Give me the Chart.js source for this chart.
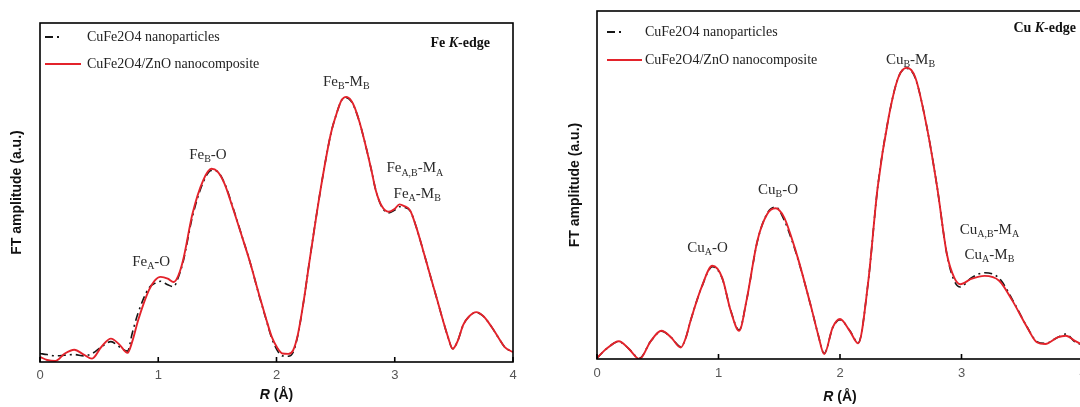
<!DOCTYPE html>
<html>
<head>
<meta charset="utf-8">
<script src="https://cdn.jsdelivr.net/npm/chart.js@4.4.1/dist/chart.umd.min.js"></script>
<style>
  html, body { margin: 0; padding: 0; width: 1080px; height: 407px; overflow: hidden; background: #fff; }
  canvas { position: absolute; top: 0; }
  #chart-fe { left: 0; }
  #chart-cu { left: 557px; }
</style>
</head>
<body>
<canvas id="chart-fe" width="540" height="407"></canvas>
<canvas id="chart-cu" width="540" height="407"></canvas>
<script>
const $ = id => document.getElementById(id);

// Fe K-edge
const rFe = [0, 0.06, 0.13, 0.21, 0.29, 0.37, 0.44, 0.52, 0.60, 0.67, 0.74, 0.78, 0.83, 0.92, 0.97, 1.02, 1.08, 1.13, 1.17, 1.21,
  1.29, 1.38, 1.45, 1.50, 1.56, 1.63, 1.70, 1.78, 1.85, 1.91, 1.96, 2.01, 2.05, 2.10, 2.14, 2.18, 2.23, 2.28, 2.34, 2.40,
  2.46, 2.51, 2.55, 2.59, 2.63, 2.66, 2.70, 2.75, 2.80, 2.84, 2.89, 2.95, 3.00, 3.04, 3.08, 3.13, 3.18, 3.24, 3.30, 3.36,
  3.41, 3.45, 3.49, 3.53, 3.58, 3.63, 3.69, 3.75, 3.82, 3.88, 3.93, 4.00];
const feComposite = [0.015, 0.006, 0.003, 0.025, 0.036, 0.022, 0.010, 0.045, 0.069, 0.052, 0.027, 0.060, 0.123, 0.211, 0.240, 0.251, 0.246, 0.236, 0.255, 0.300,
  0.438, 0.536, 0.570, 0.562, 0.526, 0.455, 0.379, 0.290, 0.202, 0.130, 0.074, 0.040, 0.025, 0.024, 0.034, 0.080, 0.180, 0.300, 0.438, 0.565,
  0.674, 0.735, 0.772, 0.782, 0.772, 0.752, 0.710, 0.644, 0.570, 0.506, 0.460, 0.443, 0.452, 0.465, 0.460, 0.447, 0.400, 0.329, 0.255, 0.182,
  0.120, 0.074, 0.039, 0.060, 0.110, 0.135, 0.147, 0.135, 0.103, 0.070, 0.044, 0.029];
const feParticles = [0.025, 0.022, 0.018, 0.020, 0.022, 0.018, 0.025, 0.045, 0.060, 0.045, 0.032, 0.085, 0.145, 0.218, 0.232, 0.238, 0.228, 0.222, 0.250, 0.295,
  0.430, 0.530, 0.565, 0.562, 0.528, 0.458, 0.380, 0.290, 0.200, 0.128, 0.070, 0.032, 0.018, 0.017, 0.028, 0.078, 0.180, 0.300, 0.438, 0.565,
  0.674, 0.735, 0.772, 0.780, 0.770, 0.750, 0.710, 0.644, 0.570, 0.506, 0.458, 0.440, 0.448, 0.458, 0.456, 0.446, 0.400, 0.329, 0.255, 0.182,
  0.120, 0.074, 0.039, 0.060, 0.110, 0.135, 0.146, 0.135, 0.103, 0.070, 0.044, 0.029];

// Cu K-edge
const rCu = [0, 0.08, 0.18, 0.26, 0.35, 0.44, 0.53, 0.61, 0.69, 0.73, 0.77, 0.86, 0.95, 1.03, 1.10, 1.17, 1.23, 1.32, 1.40, 1.47,
  1.54, 1.60, 1.66, 1.77, 1.82, 1.87, 1.94, 2.00, 2.08, 2.15, 2.23, 2.31, 2.40, 2.48, 2.55, 2.62, 2.71, 2.80, 2.88, 2.94,
  2.99, 3.08, 3.19, 3.31, 3.42, 3.54, 3.62, 3.69, 3.79, 3.86, 3.93, 4.00];
const cuComposite = [0.003, 0.030, 0.051, 0.030, 0.000, 0.050, 0.081, 0.062, 0.033, 0.060, 0.110, 0.206, 0.268, 0.234, 0.139, 0.081, 0.167, 0.340, 0.416, 0.433,
  0.407, 0.350, 0.282, 0.139, 0.070, 0.014, 0.091, 0.115, 0.081, 0.045, 0.215, 0.493, 0.694, 0.809, 0.837, 0.809, 0.675, 0.493, 0.301, 0.234,
  0.215, 0.230, 0.239, 0.225, 0.167, 0.091, 0.048, 0.043, 0.062, 0.067, 0.053, 0.040];
const cuParticles = [0.003, 0.030, 0.050, 0.030, 0.002, 0.050, 0.080, 0.062, 0.035, 0.060, 0.110, 0.205, 0.265, 0.232, 0.140, 0.083, 0.167, 0.338, 0.418, 0.437,
  0.400, 0.345, 0.280, 0.139, 0.070, 0.016, 0.090, 0.113, 0.082, 0.047, 0.215, 0.493, 0.694, 0.809, 0.835, 0.807, 0.675, 0.493, 0.300, 0.225,
  0.207, 0.233, 0.248, 0.232, 0.170, 0.092, 0.050, 0.045, 0.062, 0.072, 0.050, 0.040];

const xTicks = [0, 1, 2, 3, 4];
const seriesNames = ['CuFe2O4 nanoparticles', 'CuFe2O4/ZnO nanocomposite'];

// peak assignments, anchored in data units (R, amplitude)
const feLabels = [
  { text: 'Fe_{A}-O', r: 0.94, v: 0.295 },
  { text: 'Fe_{B}-O', r: 1.42, v: 0.611 },
  { text: 'Fe_{B}-M_{B}', r: 2.59, v: 0.826 },
  { text: 'Fe_{A,B}-M_{A}', r: 3.17, v: 0.572 },
  { text: 'Fe_{A}-M_{B}', r: 3.19, v: 0.496 }
];
const cuLabels = [
  { text: 'Cu_{A}-O', r: 0.91, v: 0.319 },
  { text: 'Cu_{B}-O', r: 1.49, v: 0.486 },
  { text: 'Cu_{B}-M_{B}', r: 2.58, v: 0.859 },
  { text: 'Cu_{A,B}-M_{A}', r: 3.23, v: 0.371 },
  { text: 'Cu_{A}-M_{B}', r: 3.23, v: 0.299 }
];

const RED = '#e3232b', BLACK = '#161616', DASH = [8, 4, 2, 4];
const SERIF = '"Liberation Serif", "Times New Roman", serif';
const SANS = '"Liberation Sans", Arial, sans-serif';

const pts = (xs, ys) => xs.map((x, i) => ({ x, y: ys[i] }));

// draw text with _{sub} parts, centred on cx
function drawRich(ctx, str, cx, cy, size) {
  const parts = str.split(/_\{([^}]*)\}/).map((t, i) => [t, i % 2 === 1]).filter(p => p[0]);
  const fMain = `${size}px ${SERIF}`, fSub = `${Math.round(size * 0.66)}px ${SERIF}`;
  let w = 0;
  parts.forEach(([t, sub]) => { ctx.font = sub ? fSub : fMain; w += ctx.measureText(t).width; });
  let x = cx - w / 2;
  ctx.textAlign = 'left'; ctx.textBaseline = 'middle';
  parts.forEach(([t, sub]) => {
    ctx.font = sub ? fSub : fMain;
    ctx.fillText(t, x, cy + (sub ? size * 0.32 : 0));
    x += ctx.measureText(t).width;
  });
}

// runs of [text, font] laid out left to right
function drawRuns(ctx, runs, x, y, align) {
  const w = runs.reduce((s, [t, f]) => { ctx.font = f; return s + ctx.measureText(t).width; }, 0);
  let px = align === 'right' ? x - w : align === 'center' ? x - w / 2 : x;
  ctx.textAlign = 'left'; ctx.textBaseline = 'middle';
  runs.forEach(([t, f]) => { ctx.font = f; ctx.fillText(t, px, y); px += ctx.measureText(t).width; });
}

const deco = {
  id: 'deco',
  afterDraw(chart, args, o) {
    const { ctx, chartArea: a, scales: { x, y } } = chart;
    ctx.save();
    ctx.strokeStyle = '#000'; ctx.lineWidth = 1.6;
    ctx.strokeRect(a.left, a.top, a.right - a.left, a.bottom - a.top);
    xTicks.forEach(v => {
      const px = x.getPixelForValue(v);
      ctx.beginPath(); ctx.moveTo(px, a.bottom); ctx.lineTo(px, a.bottom - 5); ctx.stroke();
    });

    // legend
    const lx = a.left + o.legend.x, ly = a.top + o.legend.y, gap = o.legend.gap;
    ctx.lineWidth = 1.8; ctx.strokeStyle = BLACK; ctx.setLineDash(DASH);
    ctx.beginPath(); ctx.moveTo(lx, ly); ctx.lineTo(lx + 18, ly); ctx.stroke();
    ctx.setLineDash([]); ctx.strokeStyle = RED;
    ctx.beginPath(); ctx.moveTo(lx, ly + gap); ctx.lineTo(lx + o.legend.red, ly + gap); ctx.stroke();
    ctx.fillStyle = '#222'; ctx.font = `14px ${SERIF}`; ctx.textAlign = 'left'; ctx.textBaseline = 'middle';
    ctx.fillText(seriesNames[0], lx + o.legend.text, ly);
    ctx.fillText(seriesNames[1], lx + o.legend.text, ly + gap);

    // edge tag
    ctx.fillStyle = '#111';
    drawRuns(ctx, [[o.edge.el + ' ', `bold 14px ${SERIF}`], ['K', `italic bold 14px ${SERIF}`], ['-edge', `bold 14px ${SERIF}`]],
      a.right - o.edge.dx, a.top + o.edge.dy, 'right');

    // peak labels
    ctx.fillStyle = '#2a2a2a';
    o.labels.forEach(l => drawRich(ctx, l.text, x.getPixelForValue(l.r), y.getPixelForValue(l.v), 15));

    // x title
    ctx.fillStyle = '#111';
    drawRuns(ctx, [['R', `italic bold 14px ${SANS}`], [' (Å)', `bold 14px ${SANS}`]], (a.left + a.right) / 2, o.titleY, 'center');
    ctx.restore();
  }
};

function makeChart(id, r, composite, particles, o) {
  return new Chart($(id), {
    type: 'line',
    data: {
      datasets: [
        { label: seriesNames[1], data: pts(r, composite), borderColor: RED, borderWidth: 1.9 },
        { label: seriesNames[0], data: pts(r, particles), borderColor: BLACK, borderWidth: 1.6, borderDash: DASH }
      ]
    },
    options: {
      responsive: false, animation: false, events: [],
      elements: { point: { radius: 0 }, line: { cubicInterpolationMode: 'monotone', fill: false } },
      layout: { padding: { top: o.top, right: o.right, left: 0, bottom: 0 } },
      scales: {
        x: {
          type: 'linear', min: 0, max: 4,
          grid: { display: false, drawTicks: false }, border: { display: false },
          ticks: { stepSize: 1, padding: o.tickPad, color: '#555', font: { family: SANS, size: 13 } },
          afterFit: s => { s.height = o.xh; }
        },
        y: {
          min: 0, max: 1,
          grid: { display: false, drawTicks: false }, border: { display: false },
          ticks: { display: false },
          title: { display: true, text: 'FT amplitude (a.u.)', color: '#111', font: { family: SANS, size: 14, weight: 'bold' }, padding: { top: o.yPad, bottom: 0 } },
          afterFit: s => { s.width = 40; }
        }
      },
      plugins: { legend: { display: false }, tooltip: { enabled: false }, deco: o }
    },
    plugins: [deco]
  });
}

makeChart('chart-fe', rFe, feComposite, feParticles, {
  top: 23, right: 27, xh: 45, tickPad: 6, yPad: 9, titleY: 395,
  legend: { x: 5, y: 14, gap: 27, red: 36, text: 42 },
  edge: { el: 'Fe', dx: 23, dy: 20 },
  labels: feLabels
});
makeChart('chart-cu', rCu, cuComposite, cuParticles, {
  top: 11, right: 14, xh: 48, tickPad: 7, yPad: 10, titleY: 397,
  legend: { x: 10, y: 21, gap: 28, red: 35, text: 38 },
  edge: { el: 'Cu', dx: 7, dy: 17 },
  labels: cuLabels
});
</script>
</body>
</html>
